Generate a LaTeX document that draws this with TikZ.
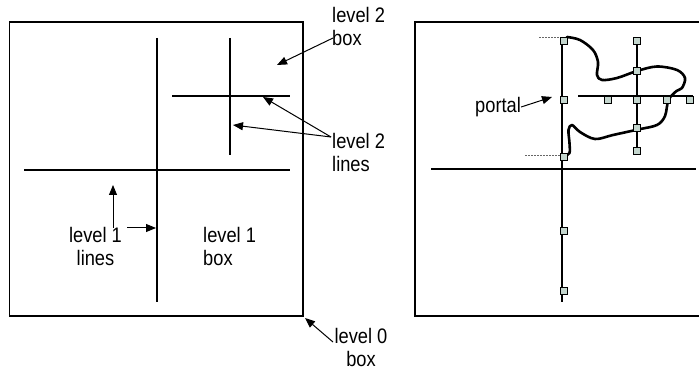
\documentclass[tikz,border=0pt]{standalone}
\usepackage{fontspec}
\setmainfont[FakeStretch=0.87]{Liberation Sans}
\usetikzlibrary{arrows.meta}
\definecolor{sqfill}{HTML}{C4D6CE}
\tikzset{
  frame/.style={line width=1.3pt},
  grid/.style={line width=1.1pt},
  lbl/.style={inner sep=0pt, font=\fontsize{21}{23}\selectfont},
  pointer/.style={line width=1pt, -{Triangle[length=10pt,width=8pt]}},
  sq/.style={draw=black, line width=0.7pt, fill=sqfill, minimum size=7pt, inner sep=0pt},
  halfdash/.style={gray!80!black, line width=0.9pt, dash pattern=on 2pt off 1pt},
  outline/.style={line width=2.6pt, line join=round, line cap=round}
}
\begin{document}
\begin{tikzpicture}[x=1pt,y=-1pt]
\useasboundingbox (0,0) rectangle (699,371);
% ---------- left diagram ----------
\draw[frame] (9.5,22) rectangle (303,316);
\draw[grid] (157,38) -- (157,302);
\draw[grid] (24,170) -- (290,170);
\draw[grid] (230,38) -- (230,155);
\draw[grid] (172,96) -- (290,96);

\node[lbl, anchor=west, align=left] (l2box) at (332,26.5) {level 2\\box};
\node[lbl, anchor=west, align=left] (l2lines) at (332,152.5) {level 2\\lines};
\node[lbl, align=center] (l1lines) at (95.5,246.5) {level 1\\lines};
\node[lbl, anchor=west, align=left] (l1box) at (203,246.5) {level 1\\box};
\node[lbl, align=center] (l0box) at (361,347.5) {level 0\\box};

\coordinate (t2box) at (277,65);
\coordinate (t2h) at (263,97);
\coordinate (t2v) at (233,125);
\coordinate (t1v) at (113,185);
\coordinate (t1h) at (156,228);
\coordinate (t0) at (305,318);
\coordinate (s2box) at (333,38);
\coordinate (s2lines) at (331,137);
\coordinate (s1v) at (113,228);
\coordinate (s1h) at (127,228);
\coordinate (s0) at (333,342);

\draw[pointer] (s2box) -- (t2box);
\draw[pointer] (s2lines) -- (t2h);
\draw[pointer] (s2lines) -- (t2v);
\draw[pointer] (s1v) -- (t1v);
\draw[pointer] (s1h) -- (t1h);
\draw[pointer] (s0) -- (t0);

% ---------- right diagram ----------
\draw[frame] (699,22) -- (415,22) -- (415,316) -- (699,316);
\draw[grid] (562,37) -- (562,302);
\draw[grid] (431,169) -- (696,169);
\draw[grid] (637,41) -- (637,151);
\draw[grid] (578,96) -- (693,96);

\draw[halfdash] (539,37) -- (566,37);
\draw[halfdash] (525,155) -- (560,155);

\draw[outline] plot[smooth, tension=0.55] coordinates {
  (567,37) (580,40) (593,50) (598,62) (597,75) (602,80) (617,78)
  (637,71) (657,66.5) (677,70) (685,78) (682,88) (676.5,91) (668.5,100)
  (665,116) (657,125) (638,129.5) (613,135) (595,139) (580,132)
  (572,125) (568.5,130) (569.5,143) (569.5,153) (565,156)};

\foreach \n/\x/\y in {a/564/41, b/564/100, c/564/157, d/564/231, e/564/291,
  f/608/100, g/637/100, h/667/100, i/690/100,
  j/637/41, k/637/70.5, l/637/128, m/637/151}
  \node[sq] (sq\n) at (\x,\y) {};

\node[lbl, anchor=west] (portal) at (475,107) {portal};
\coordinate (tportal) at (552,97);
\draw[pointer] (portal.east) -- (tportal);
\end{tikzpicture}
\end{document}
